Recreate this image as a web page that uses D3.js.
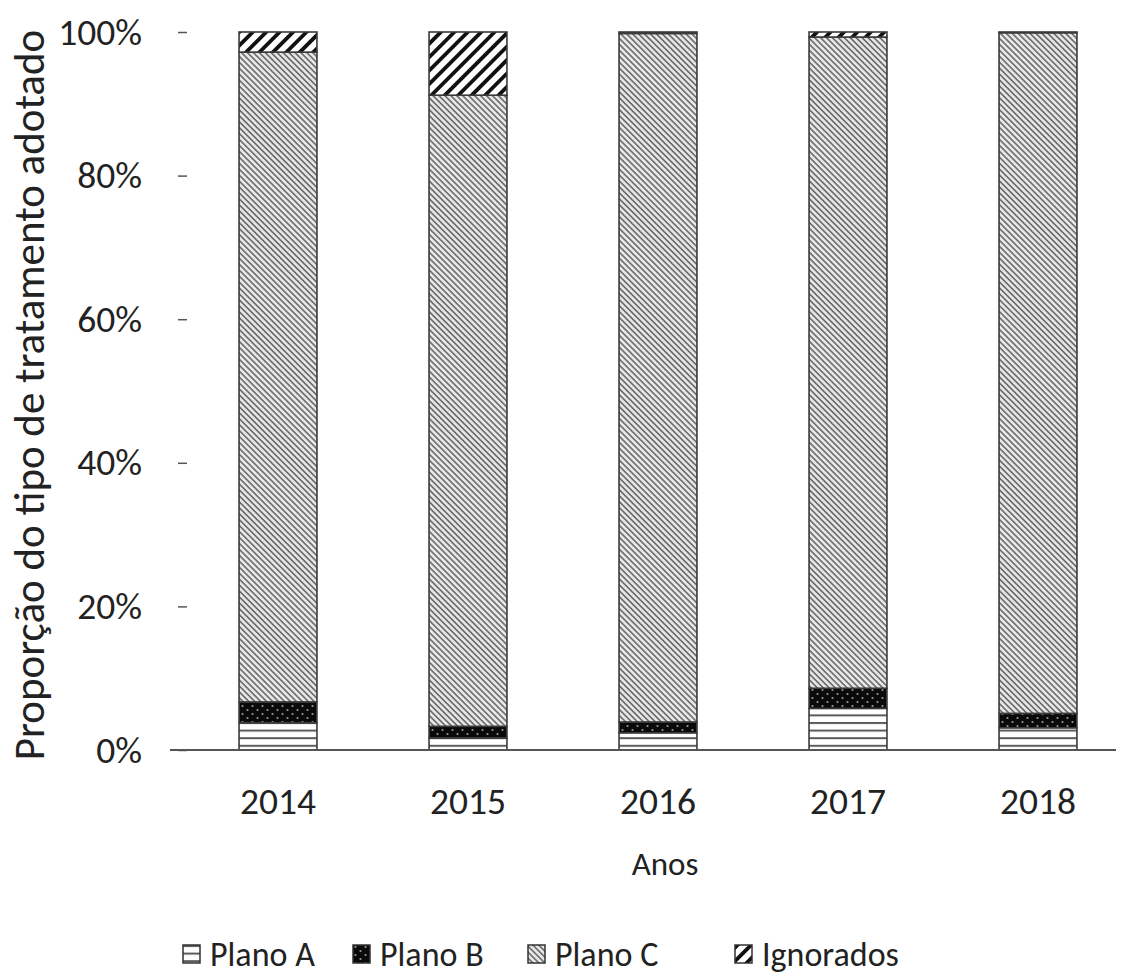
<!DOCTYPE html>
<html>
<head>
<meta charset="utf-8">
<script src="https://cdn.jsdelivr.net/npm/d3@7/dist/d3.min.js"></script>
<style>
  html, body { margin: 0; padding: 0; background: #fff; }
  svg text { font-family: Carlito, "Open Sans", "Noto Sans", sans-serif; fill: #222; }
</style>
</head>
<body>
<svg id="chart" width="1121" height="977"></svg>
<script>
// Treatment plan share per year (percent)
const years = ["2014", "2015", "2016", "2017", "2018"];
const series = ["Plano A", "Plano B", "Plano C", "Ignorados"];
const planoA = [3.8, 1.7, 2.4, 5.8, 3.1];
const planoB = [2.9, 1.6, 1.5, 2.8, 2.0];
const ignorados = [2.8, 8.8, 0.2, 0.7, 0.1];
const planoC = years.map((_, i) => 100 - planoA[i] - planoB[i] - ignorados[i]);
const yTicks = [0, 20, 40, 60, 80, 100];

const rows = years.map((y, i) => ({
  year: y,
  "Plano A": planoA[i],
  "Plano B": planoB[i],
  "Plano C": planoC[i],
  "Ignorados": ignorados[i]
}));

const svg = d3.select("#chart");
const margin = { left: 183, right: 1133, top: 32, bottom: 750 };

const x = d3.scaleBand().domain(years).range([margin.left, margin.right]).paddingInner(0.59).paddingOuter(0.295);
const y = d3.scaleLinear().domain([0, 100]).range([margin.bottom, margin.top]);

// Fill patterns for each series
const defs = svg.append("defs");

const pA = defs.append("pattern").attr("id", "pat-a").attr("patternUnits", "userSpaceOnUse")
  .attr("width", 8).attr("height", 7.6);
pA.append("rect").attr("width", 8).attr("height", 7.6).attr("fill", "#fff");
pA.append("rect").attr("x", 0).attr("y", 0).attr("width", 8).attr("height", 2).attr("fill", "#5a5a5a");

const pB = defs.append("pattern").attr("id", "pat-b").attr("patternUnits", "userSpaceOnUse")
  .attr("width", 10).attr("height", 8);
pB.append("rect").attr("width", 10).attr("height", 8).attr("fill", "#0a0a0a");
pB.append("circle").attr("cx", 2.5).attr("cy", 2).attr("r", 1.1).attr("fill", "#9a9a9a");
pB.append("circle").attr("cx", 7.5).attr("cy", 6).attr("r", 1.1).attr("fill", "#9a9a9a");

const pC = defs.append("pattern").attr("id", "pat-c").attr("patternUnits", "userSpaceOnUse")
  .attr("width", 4.2).attr("height", 4.2).attr("patternTransform", "rotate(45)");
pC.append("rect").attr("width", 4.2).attr("height", 4.2).attr("fill", "#e8e8e8");
pC.append("rect").attr("x", 0).attr("y", 0).attr("width", 4.2).attr("height", 1.7).attr("fill", "#707070");

const pI = defs.append("pattern").attr("id", "pat-i").attr("patternUnits", "userSpaceOnUse")
  .attr("width", 9.5).attr("height", 9.5).attr("patternTransform", "rotate(45)");
pI.append("rect").attr("width", 9.5).attr("height", 9.5).attr("fill", "#fff");
pI.append("rect").attr("x", 0).attr("y", 0).attr("width", 3.8).attr("height", 9.5).attr("fill", "#111");

const fills = { "Plano A": "url(#pat-a)", "Plano B": "url(#pat-b)", "Plano C": "url(#pat-c)", "Ignorados": "url(#pat-i)" };

const stack = d3.stack().keys(series)(rows);

svg.append("g").selectAll("g").data(stack).join("g")
  .attr("fill", d => fills[d.key])
  .selectAll("rect").data(d => d).join("rect")
  .attr("x", d => x(d.data.year))
  .attr("width", x.bandwidth())
  .attr("y", d => y(d[1]))
  .attr("height", d => y(d[0]) - y(d[1]))
  .attr("stroke", "#3a3a3a")
  .attr("stroke-width", 1.6);

// Y axis: tick marks and percent labels
const yAxis = svg.append("g").attr("transform", `translate(${margin.left - 5},0)`)
  .call(d3.axisLeft(y).tickValues(yTicks).tickFormat(d => d + "%").tickSize(-9).tickPadding(36));
yAxis.select(".domain").remove();
yAxis.selectAll(".tick line").attr("stroke", "#555").attr("stroke-width", 1.5);
yAxis.selectAll(".tick text").attr("font-size", 37.5).attr("fill", "#222");

// X axis baseline and year labels
svg.append("line").attr("x1", 170).attr("x2", 1116).attr("y1", y(0)).attr("y2", y(0))
  .attr("stroke", "#555").attr("stroke-width", 2);
const xAxis = svg.append("g").attr("transform", `translate(0,${y(0)})`)
  .call(d3.axisBottom(x).tickSize(0).tickPadding(37));
xAxis.select(".domain").remove();
xAxis.selectAll(".tick text").attr("font-size", 37.5).attr("fill", "#222");

// Axis titles
svg.append("text").attr("x", 665).attr("y", 875).attr("text-anchor", "middle")
  .attr("font-size", 33).text("Anos");
svg.append("text").attr("transform", "translate(44,395) rotate(-90)").attr("text-anchor", "middle")
  .attr("font-size", 43).text("Proporção do tipo de tratamento adotado");

// Legend
const legendX = [183, 353, 528, 735];
const legend = svg.append("g").selectAll("g").data(series).join("g")
  .attr("transform", (d, i) => `translate(${legendX[i]},945)`);
legend.append("rect").attr("width", 17).attr("height", 18)
  .attr("fill", d => fills[d]).attr("stroke", "#333").attr("stroke-width", 1.5);
legend.append("text").attr("x", 27).attr("y", 21).attr("font-size", 34).text(d => d);
</script>
</body>
</html>
